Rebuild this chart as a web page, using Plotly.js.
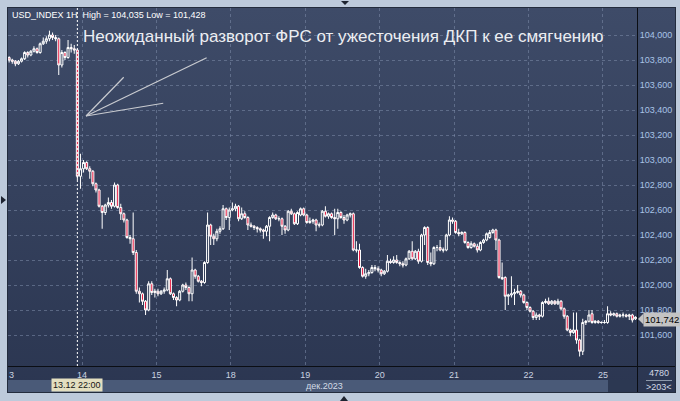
<!DOCTYPE html>
<html>
<head>
<meta charset="utf-8">
<script src="https://cdn.plot.ly/plotly-3.0.1.min.js"></script>
<style>
  html,body{margin:0;padding:0;}
  body{width:680px;height:401px;overflow:hidden;position:relative;background:#bdcadb;font-family:"Liberation Sans",Arial,sans-serif;}
  .abs{position:absolute;}
</style>
</head>
<body>
<div class="abs" style="left:7px;top:7px;width:669px;height:386px;box-sizing:border-box;border:1px solid #232c3d;background:linear-gradient(#3e4b68,#2b3651);"></div>
<div class="abs" style="left:8px;top:380px;width:629px;height:12px;background:#4a5a78;"></div>
<div class="abs" style="left:608px;top:380px;width:29px;height:12px;background:#2c3852;"></div>
<div class="abs" style="left:637px;top:366px;width:1px;height:26px;background:#0b0e14;"></div>
<div class="abs" style="left:637px;top:366px;width:38px;height:1px;background:#0b0e14;"></div>
<div class="abs" style="left:646px;top:380px;width:26px;height:1px;background:#8d99ab;"></div>
<div class="abs" style="left:341px;top:1px;width:0;height:0;border-left:4px solid transparent;border-right:4px solid transparent;border-top:4px solid #1d2330;"></div>
<div class="abs" style="left:1px;top:196px;width:0;height:0;border-top:4px solid transparent;border-bottom:4px solid transparent;border-left:5px solid #1d2330;"></div>
<div class="abs" style="left:340px;top:396px;width:0;height:0;border-left:4px solid transparent;border-right:4px solid transparent;border-bottom:5px solid #1d2330;"></div>
<div id="chart" class="abs" style="left:0;top:0;width:680px;height:401px;"></div>
<script>
// Hourly bars [open, high, low, close]
const dec13 = [
 [103.82,103.83,103.78,103.80],[103.80,103.81,103.77,103.79],[103.79,103.80,103.75,103.77],[103.77,103.80,103.76,103.79],
 [103.79,103.82,103.78,103.81],[103.81,103.87,103.80,103.86],[103.86,103.87,103.82,103.84],[103.84,103.88,103.83,103.87],
 [103.87,103.91,103.86,103.89],[103.89,103.90,103.85,103.86],[103.86,103.94,103.85,103.93],[103.93,103.98,103.92,103.95],
 [103.95,103.99,103.93,103.97],[103.97,104.035,103.95,104.00],[104.00,104.02,103.96,103.98],[103.98,104.00,103.95,103.97],
 [103.97,103.98,103.68,103.76],[103.76,103.88,103.74,103.86],[103.86,103.87,103.80,103.82],[103.82,103.96,103.81,103.90],
 [103.90,103.93,103.86,103.89],[103.89,103.92,103.85,103.88],[103.88,103.89,102.84,102.87],[102.87,103.05,102.77,102.93]
];
const dec14 = [
 [102.93,103.00,102.90,102.98],[102.98,102.99,102.92,102.93],[102.93,102.95,102.85,102.91],[102.91,102.92,102.79,102.81],
 [102.81,102.82,102.74,102.76],[102.76,102.77,102.62,102.63],[102.63,102.64,102.45,102.58],[102.58,102.65,102.56,102.64],
 [102.64,102.70,102.62,102.66],[102.66,102.68,102.61,102.63],[102.63,102.82,102.62,102.80],[102.80,102.81,102.61,102.62],
 [102.62,102.65,102.52,102.57],[102.57,102.58,102.50,102.52],[102.52,102.53,102.37,102.38],[102.38,102.40,102.33,102.37],
 [102.37,102.58,102.24,102.26],[102.26,102.28,101.93,101.95],[101.95,101.98,101.86,101.93],[101.93,101.94,101.84,101.87],
 [101.87,101.88,101.76,101.80],[101.80,102.03,101.79,102.01],[102.01,102.03,101.92,101.94],[101.94,101.97,101.90,101.95]
];
const dec15 = [
 [101.95,101.97,101.91,101.93],[101.93,101.96,101.92,101.95],[101.95,101.98,101.93,101.96],[101.96,102.12,101.95,102.05],
 [102.05,102.06,101.92,101.93],[101.93,101.94,101.88,101.90],[101.90,101.91,101.83,101.88],[101.88,101.96,101.87,101.95],
 [101.95,102.01,101.94,102.00],[102.00,102.02,101.96,101.98],[101.98,101.99,101.87,101.93],[101.93,102.22,101.87,102.12],
 [102.12,102.13,102.05,102.07],[102.07,102.08,102.02,102.03],[102.03,102.04,101.99,102.02],[102.02,102.19,102.01,102.18],
 [102.18,102.58,102.17,102.48],[102.48,102.49,102.32,102.39],[102.39,102.41,102.32,102.37],[102.37,102.45,102.35,102.43],
 [102.43,102.47,102.41,102.45],[102.45,102.64,102.44,102.61],[102.61,102.62,102.52,102.54],[102.54,102.62,102.44,102.60]
];
const dec18 = [
 [102.60,102.66,102.59,102.61],[102.61,102.65,102.59,102.63],[102.63,102.64,102.51,102.53],[102.53,102.62,102.52,102.57],
 [102.57,102.59,102.53,102.54],[102.54,102.55,102.44,102.48],[102.48,102.50,102.46,102.47],[102.47,102.48,102.44,102.46],
 [102.46,102.47,102.42,102.45],[102.45,102.46,102.42,102.44],[102.44,102.45,102.37,102.43],[102.43,102.48,102.39,102.47],
 [102.47,102.55,102.35,102.54],[102.54,102.58,102.53,102.56],[102.56,102.57,102.52,102.53],[102.53,102.55,102.51,102.53],
 [102.53,102.54,102.40,102.47],[102.47,102.48,102.41,102.44],[102.44,102.60,102.43,102.59],[102.59,102.61,102.56,102.57],
 [102.57,102.58,102.48,102.49],[102.49,102.59,102.48,102.58],[102.56,102.62,102.55,102.61],[102.61,102.62,102.55,102.56]
];
const dec19 = [
 [102.56,102.57,102.49,102.50],[102.50,102.54,102.49,102.51],[102.51,102.53,102.49,102.52],[102.52,102.53,102.43,102.48],
 [102.48,102.50,102.46,102.48],[102.48,102.60,102.47,102.59],[102.59,102.63,102.54,102.55],[102.55,102.58,102.53,102.57],
 [102.57,102.58,102.53,102.54],[102.54,102.61,102.40,102.53],[102.53,102.61,102.45,102.58],[102.58,102.59,102.53,102.54],
 [102.54,102.56,102.49,102.52],[102.52,102.57,102.51,102.56],[102.56,102.58,102.54,102.57],[102.57,102.58,102.27,102.28],
 [102.28,102.35,102.26,102.28],[102.28,102.33,102.13,102.14],[102.14,102.15,102.06,102.07],[102.07,102.13,102.05,102.09],
 [102.09,102.12,102.07,102.10],[102.10,102.16,102.09,102.14],[102.14,102.16,102.11,102.13],[102.13,102.15,102.10,102.12]
];
const dec20 = [
 [102.12,102.13,102.07,102.09],[102.09,102.12,102.08,102.11],[102.11,102.24,102.10,102.19],[102.19,102.21,102.17,102.18],
 [102.18,102.23,102.17,102.20],[102.20,102.24,102.17,102.18],[102.18,102.19,102.15,102.17],[102.17,102.19,102.14,102.16],
 [102.16,102.22,102.15,102.21],[102.21,102.28,102.20,102.27],[102.27,102.35,102.20,102.21],[102.21,102.28,102.20,102.27],
 [102.27,102.29,102.17,102.19],[102.19,102.41,102.18,102.40],[102.40,102.47,102.32,102.46],[102.46,102.47,102.16,102.18],
 [102.18,102.26,102.15,102.17],[102.17,102.31,102.16,102.30],[102.30,102.32,102.27,102.30],[102.30,102.36,102.27,102.28],
 [102.28,102.30,102.26,102.28],[102.28,102.41,102.27,102.40],[102.40,102.55,102.39,102.52],[102.52,102.54,102.49,102.51]
];
const dec21 = [
 [102.51,102.52,102.41,102.42],[102.42,102.45,102.39,102.41],[102.41,102.43,102.40,102.42],[102.42,102.43,102.33,102.34],
 [102.34,102.35,102.29,102.30],[102.30,102.35,102.29,102.33],[102.33,102.34,102.30,102.31],[102.31,102.33,102.26,102.28],
 [102.28,102.35,102.27,102.34],[102.34,102.37,102.33,102.36],[102.36,102.42,102.35,102.41],[102.38,102.44,102.37,102.42],
 [102.42,102.45,102.41,102.44],[102.44,102.45,102.28,102.36],[102.36,102.37,102.05,102.06],[102.06,102.18,102.04,102.05],
 [102.06,102.07,101.80,101.91],[101.91,101.93,101.84,101.92],[101.92,102.07,101.90,101.93],[101.93,101.97,101.84,101.94],
 [101.94,102.00,101.93,101.95],[101.95,101.96,101.90,101.92],[101.92,101.93,101.85,101.86],[101.86,101.87,101.80,101.82]
];
const dec22 = [
 [101.82,101.83,101.78,101.79],[101.79,101.80,101.72,101.74],[101.74,101.78,101.72,101.76],[101.76,101.77,101.72,101.75],
 [101.75,101.87,101.74,101.86],[101.86,101.89,101.85,101.87],[101.87,101.90,101.84,101.85],[101.85,101.88,101.84,101.87],
 [101.87,101.88,101.84,101.85],[101.85,101.89,101.84,101.87],[101.87,101.88,101.80,101.81],[101.81,101.82,101.73,101.75],
 [101.75,101.76,101.63,101.64],[101.64,101.65,101.59,101.62],[101.62,101.78,101.61,101.64],[101.64,101.78,101.53,101.56],
 [101.56,101.57,101.428,101.47],[101.47,101.73,101.44,101.70],[101.70,101.72,101.68,101.71],[101.71,101.80,101.70,101.76],
 [101.77,101.80,101.69,101.70],[101.70,101.72,101.69,101.71],[101.71,101.72,101.69,101.70],[101.70,101.71,101.69,101.70]
];
const dec25 = [
 [101.70,101.72,101.69,101.70],[101.70,101.83,101.69,101.77],[101.77,101.79,101.75,101.76],[101.76,101.78,101.75,101.77],
 [101.77,101.78,101.74,101.75],[101.75,101.77,101.74,101.76],[101.76,101.78,101.74,101.76],[101.76,101.77,101.74,101.75],
 [101.75,101.77,101.72,101.76],[101.76,101.77,101.70,101.72],[101.73,101.75,101.72,101.742]
];
const dayLabels = ['13','14','15','18','19','20','21','22','25'];
const yTicks = [101.6,101.8,102.0,102.2,102.4,102.6,102.8,103.0,103.2,103.4,103.6,103.8,104.0];
const lastPrice = 101.742;
const eventBar = 22;              // 13.12 22:00
// fan lines drawn on chart: [x0,y0,x1,y1] in bar index / price
const fanLines = [[24.8,103.352,36.95,103.662],[24.8,103.352,63.7,103.818],[24.8,103.352,49.7,103.454]];

const days = [dec13,dec14,dec15,dec18,dec19,dec20,dec21,dec22,dec25];
const bars = days.flat();
const x = bars.map((b,i)=>i);
const open = bars.map(b=>b[0]), high = bars.map(b=>b[1]), low = bars.map(b=>b[2]), close = bars.map(b=>b[3]);
const dayStarts = []; let acc = 0;
days.forEach(d=>{dayStarts.push(acc-0.5); acc += d.length;});

const F = '"Liberation Sans", Arial, sans-serif';
// pixel helpers for paper coords (plot area 8..637 x 8..366)
const PX = p => (p-8)/629, PY = p => (366-p)/358;
const tagY = 319;

const trace = {
  type:'candlestick', x:x, open:open, high:high, low:low, close:close,
  increasing:{line:{color:'#ffffff',width:1}, fillcolor:'rgba(0,0,0,0)'},
  decreasing:{line:{color:'#ffffff',width:1}, fillcolor:'#e8163e'},
  whiskerwidth:0, hoverinfo:'skip', showlegend:false
};

const shapes = [
  {type:'line', xref:'x', yref:'paper', x0:eventBar, x1:eventBar, y0:0, y1:1, line:{color:'#ffffff', width:1, dash:'2px,2px'}, layer:'above'},
  {type:'path', xref:'paper', yref:'paper', path:`M ${PX(638)} ${PY(tagY)} L ${PX(643.5)} ${PY(tagY-5.5)} L ${PX(643.5)} ${PY(tagY+5.5)} Z`, fillcolor:'#c4c4c4', line:{width:0}}
];
fanLines.forEach(f=>shapes.push({type:'line', xref:'x', yref:'y', x0:f[0], y0:f[1], x1:f[2], y1:f[3], line:{color:'#c9cbd0', width:1.2}}));

const annotations = [
  {xref:'paper', yref:'paper', x:PX(10), y:PY(15), xanchor:'left', yanchor:'middle', showarrow:false,
   text:'USD_INDEX 1H  High = 104,035 Low = 101,428', font:{family:F, size:9, color:'#ffffff'}},
  {xref:'paper', yref:'paper', x:PX(81), y:PY(36), xanchor:'left', yanchor:'middle', showarrow:false,
   text:'Неожиданный разворот ФРС от ужесточения ДКП к ее смягчению', font:{family:F, size:17, color:'#eceef2'}},
  {xref:'paper', yref:'paper', x:PX(11), y:PY(374.5), xanchor:'center', yanchor:'middle', showarrow:false,
   text:'3', font:{family:F, size:9, color:'#cad3e0'}},
  {xref:'paper', yref:'paper', x:PX(76.5), y:PY(385), xanchor:'center', yanchor:'middle', showarrow:false,
   text:'13.12 22:00', font:{family:F, size:9, color:'#151515'}, bgcolor:'#e4dfc0', borderpad:1},
  {xref:'paper', yref:'paper', x:PX(325), y:PY(386), xanchor:'center', yanchor:'middle', showarrow:false,
   text:'дек.2023', font:{family:F, size:9, color:'#d3dae6'}},
  {xref:'paper', yref:'paper', x:PX(658.5), y:PY(373), xanchor:'center', yanchor:'middle', showarrow:false,
   text:'4780', font:{family:F, size:9, color:'#d3dae6'}},
  {xref:'paper', yref:'paper', x:PX(658.5), y:PY(387), xanchor:'center', yanchor:'middle', showarrow:false,
   text:'>203<', font:{family:F, size:9, color:'#d3dae6'}},
  {xref:'paper', yref:'paper', x:PX(643), y:PY(tagY), xanchor:'left', yanchor:'middle', showarrow:false,
   text:lastPrice.toFixed(3).replace('.',','), font:{family:F, size:9.5, color:'#000000'}, bgcolor:'#c4c4c4', borderpad:1}
];

const layout = {
  width:680, height:401,
  margin:{l:8, r:43, t:8, b:35, pad:0},
  paper_bgcolor:'rgba(0,0,0,0)', plot_bgcolor:'rgba(0,0,0,0)',
  separators:', ',
  boxgap:0.35, boxgroupgap:0,
  showlegend:false,
  xaxis:{
    type:'linear', range:[-0.37, 202.5], fixedrange:true, rangeslider:{visible:false},
    tickmode:'array', tickvals:dayStarts.slice(1), ticktext:dayLabels.slice(1),
    showgrid:true, gridcolor:'rgba(125,140,170,0.55)', griddash:'3px,3px', gridwidth:1,
    zeroline:false, showline:true, linecolor:'#0b0e14', linewidth:1, mirror:false,
    ticks:'', tickfont:{family:F, size:9, color:'#cad3e0'}
  },
  yaxis:{
    side:'right', range:[101.352, 104.216], fixedrange:true,
    tickmode:'array', tickvals:yTicks, tickformat:'.3f',
    showgrid:true, gridcolor:'rgba(125,140,170,0.55)', griddash:'3px,3px', gridwidth:1,
    zeroline:false, showline:true, linecolor:'#0b0e14', linewidth:1,
    ticks:'', tickfont:{family:F, size:9, color:'#a9c4e6'}
  },
  shapes:shapes, annotations:annotations
};

Plotly.newPlot('chart', [trace], layout, {staticPlot:true, displayModeBar:false});
</script>
</body>
</html>
